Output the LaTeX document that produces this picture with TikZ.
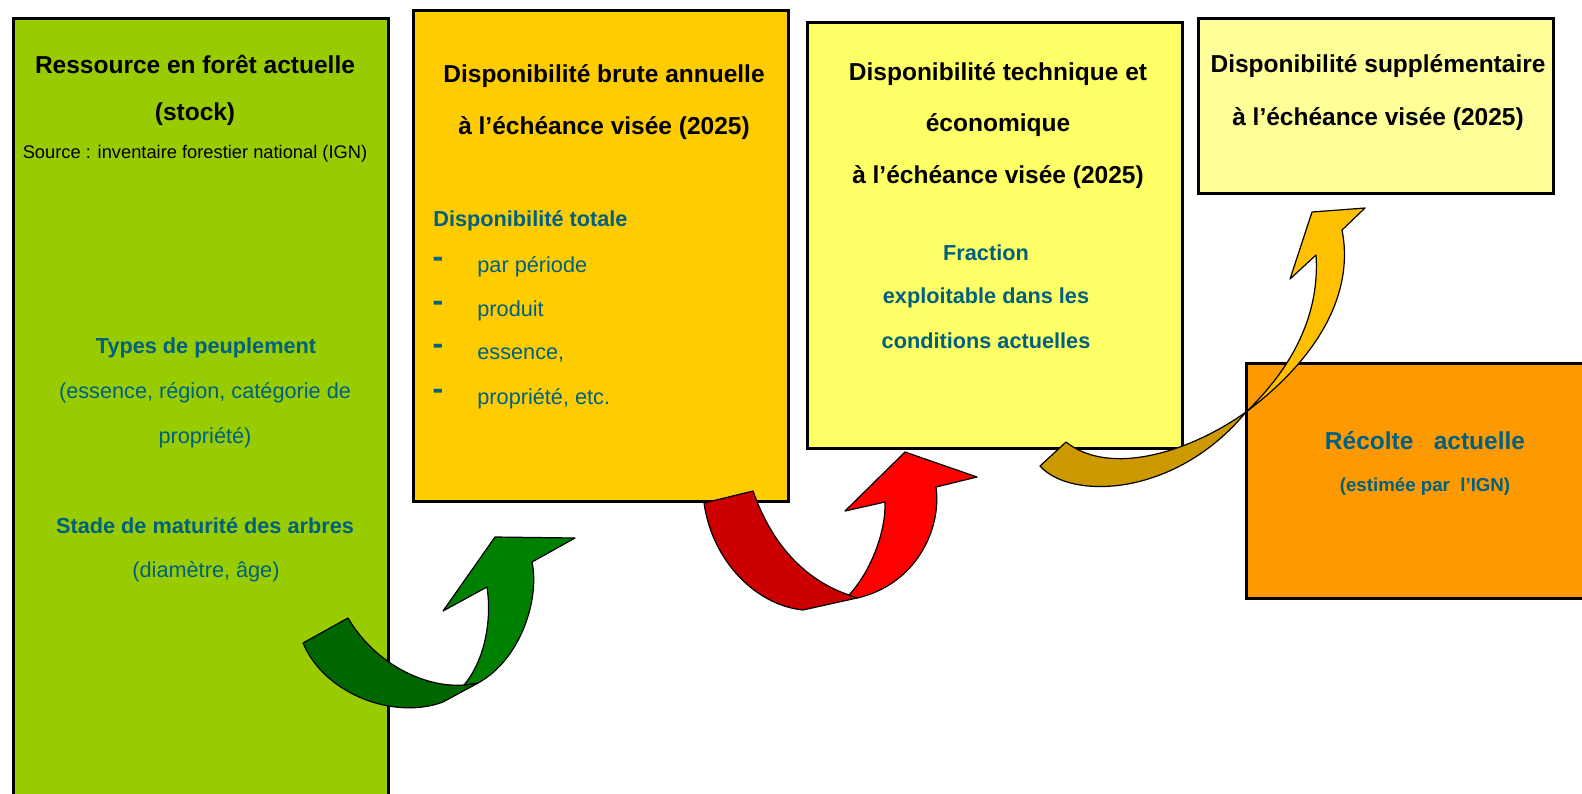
\documentclass[tikz,border=0pt]{standalone}
\usepackage{fontspec}
\setmainfont{Liberation Sans}
\usetikzlibrary{calc,positioning}

\definecolor{vert}{HTML}{99CC00}
\definecolor{jauneA}{HTML}{FFCC00}
\definecolor{jauneB}{HTML}{FFFF66}
\definecolor{jauneC}{HTML}{FFFF99}
\definecolor{orangeA}{HTML}{FF9900}
\definecolor{bleu}{RGB}{0,96,128}
\definecolor{vertfonce}{HTML}{006600}
\definecolor{vertclair}{HTML}{008000}
\definecolor{rougefonce}{HTML}{CC0000}
\definecolor{rougeclair}{HTML}{FF0000}
\definecolor{orfonce}{HTML}{CC9900}
\definecolor{orclair}{HTML}{FFC000}

\begin{document}
\begin{tikzpicture}[x=0.5pt,y=-0.5pt,inner sep=0pt,
  boite/.style={draw=black,line width=1.5pt},
  titre/.style={anchor=base,font=\fontsize{12.25}{14}\selectfont\bfseries},
  texte/.style={anchor=base,text=bleu,font=\fontsize{10.85}{13}\selectfont},
  gras/.style={texte,font=\fontsize{10.85}{13}\selectfont\bfseries},
  tiret/.style={text=bleu,font=\fontsize{16}{16}\selectfont\bfseries},
  fleche/.style={draw=black,line width=0.6pt,line join=round}]
\useasboundingbox (0,0) rectangle (1582,793);

% boites
\draw[boite,fill=vert] (13,18) rectangle (388,810);
\draw[boite,fill=jauneA] (413,10) rectangle (788,501);
\draw[boite,fill=jauneB] (807,22) rectangle (1182,448);
\draw[boite,fill=jauneC] (1198,18) rectangle (1553,193);
\draw[boite,fill=orangeA] (1246,363) rectangle (1600,598);

% ressource
\node[titre] (ressource) at (195,73) {Ressource en forêt actuelle};
\node[titre] (stock) at (195,120) {(stock)};
\node[anchor=base,font=\fontsize{9.15}{11}\selectfont] (source) at (195,158)
  {Source : inventaire forestier national (IGN)};
\node[gras] (types) at (206,353) {Types de peuplement};
\node[texte] (types1) at (205,398) {(essence, région, catégorie de};
\node[texte] (types2) at (205,443) {propriété)};
\node[gras] (stade) at (205,533) {Stade de maturité des arbres};
\node[texte] (stade1) at (206,577) {(diamètre, âge)};

% disponibilite brute
\node[titre] (brute1) at (604,82) {Disponibilité brute annuelle};
\node[titre] (brute2) at (604,134) {à l’échéance visée (2025)};
\node[gras,anchor=base west] (totale) at (433,226) {Disponibilité totale};
\foreach \y/\t [count=\i] in {272/par période, 316/produit, 359/{essence,}, 404/{propriété, etc.}}{
  \node[tiret] (tiret\i) at (438,\y-10) {-};
  \node[texte,anchor=base west] (item\i) at (477,\y) {\t};
}

% disponibilite technique
\node[titre] (tech1) at (998,80) {Disponibilité technique et};
\node[titre] (tech2) at (998,131) {économique};
\node[titre] (tech3) at (998,183) {à l’échéance visée (2025)};
\node[gras] (fraction1) at (986,260) {Fraction};
\node[gras] (fraction2) at (986,303) {exploitable dans les};
\node[gras] (fraction3) at (986,348) {conditions actuelles};

% disponibilite supplementaire
\node[titre] (supp1) at (1378,72) {Disponibilité supplémentaire};
\node[titre] (supp2) at (1378,125) {à l’échéance visée (2025)};

% recolte
\node[gras,font=\fontsize{12.25}{14}\selectfont\bfseries] (recolte) at (1425,449)
  {Récolte\ \ \ actuelle};
\node[gras,font=\fontsize{9.35}{11}\selectfont\bfseries] (estimee) at (1425,491)
  {(estimée par\ \ l’IGN)};

% fleche verte
\coordinate (g1) at (303,643);
\coordinate (g2) at (348,618);
\coordinate (g3) at (443,702);
\coordinate (g4) at (478,683);
\coordinate (g5) at (464,685);
\coordinate (g6) at (487,587);
\coordinate (g7) at (443,611);
\coordinate (g8) at (495,537);
\coordinate (g9) at (575,538);
\coordinate (g10) at (532,562);
\draw[fleche,fill=vertfonce] (g1) .. controls (325,695) and (395,720) .. (g3)
  -- (g4) -- (g5) .. controls (425,688) and (375,664) .. (g2) -- cycle;
\draw[fleche,fill=vertclair] (g5) .. controls (485,660) and (492,620) .. (g6)
  -- (g7) -- (g8) -- (g9) -- (g10) .. controls (540,600) and (520,660) .. (g4) -- cycle;

% fleche rouge
\coordinate (r1) at (704,503);
\coordinate (r2) at (753,491);
\coordinate (r3) at (803,610);
\coordinate (r4) at (857,598);
\coordinate (r5) at (849,595);
\coordinate (r6) at (885,502);
\coordinate (r7) at (845,511);
\coordinate (r8) at (905,452);
\coordinate (r9) at (977,477);
\coordinate (r10) at (936,487);
\draw[fleche,fill=rougefonce] (r1) .. controls (712,560) and (755,605) .. (r3)
  -- (r4) -- (r5) .. controls (805,580) and (772,545) .. (r2) -- cycle;
\draw[fleche,fill=rougeclair] (r5) .. controls (872,570) and (886,530) .. (r6)
  -- (r7) -- (r8) -- (r9) -- (r10) .. controls (942,530) and (915,585) .. (r4) -- cycle;

% fleche or
\coordinate (o1) at (1040,466);
\coordinate (o2) at (1066,442);
\coordinate (o3) at (1246,412);
\coordinate (o4) at (1316,255);
\coordinate (o5) at (1290,279);
\coordinate (o6) at (1312,212);
\coordinate (o7) at (1365,208);
\coordinate (o8) at (1342,230);
\draw[fleche,fill=orfonce] (o1) .. controls (1070,500) and (1175,498) .. (o3)
  .. controls (1190,452) and (1110,477) .. (o2) -- cycle;
\draw[fleche,fill=orclair] (o3) .. controls (1292,368) and (1320,315) .. (o4)
  -- (o5) -- (o6) -- (o7) -- (o8) .. controls (1354,290) and (1322,355) .. (o3) -- cycle;
\end{tikzpicture}
\end{document}
